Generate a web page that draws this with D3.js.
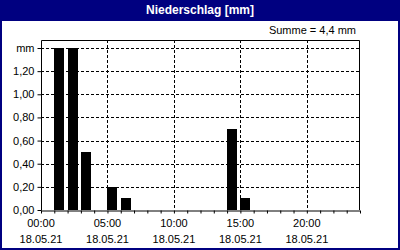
<!DOCTYPE html>
<html>
<head>
<meta charset="utf-8">
<script src="https://cdn.jsdelivr.net/npm/d3@7"></script>
<style>
  body { margin: 0; background: #fff; }
  svg { display: block; }
  text { font-family: "Liberation Sans", Arial, sans-serif; font-size: 11px; fill: #000; }
</style>
</head>
<body>
<svg id="chart" width="400" height="250"></svg>
<script>
// hourly precipitation, 18.05.21
const hours = [1, 2, 3, 5, 6, 14, 15];
const values = [1.4, 1.4, 0.5, 0.2, 0.1, 0.7, 0.1];
const yTicks = [0, 0.2, 0.4, 0.6, 0.8, 1.0, 1.2, 1.4];
const xTicks = [0, 5, 10, 15, 20];
const dateLabel = "18.05.21";
const title = "Niederschlag [mm]";
const sumLabel = "Summe = 4,4 mm";

const width = 400, height = 250;
const margin = {top: 40, right: 40, bottom: 40, left: 41};
const plotBottom = 210;

const svg = d3.select("#chart");

// frame + title bar
svg.append("rect").attr("x", 0).attr("y", 0).attr("width", width).attr("height", height).attr("fill", "#000080");
svg.append("rect").attr("x", 2).attr("y", 21).attr("width", width - 4).attr("height", height - 21 - 2).attr("fill", "#fff");
svg.append("text")
    .attr("x", width / 2).attr("y", 11)
    .attr("text-anchor", "middle").attr("dominant-baseline", "middle")
    .style("font-weight", "bold").style("font-size", "12px").style("fill", "#fff")
    .text(title);

svg.append("text")
    .attr("x", 356).attr("y", 31)
    .attr("text-anchor", "end").attr("dominant-baseline", "middle")
    .text(sumLabel);

var x = d3.scaleLinear().domain([0, 24]).range([margin.left, 360]);
var y = d3.scaleLinear().domain([0, 1.4]).range([plotBottom, 48]);

// gridlines
svg.append("g").selectAll("line")
    .data(yTicks.filter(d => d > 0))
    .enter().append("line")
    .attr("x1", x(0)).attr("x2", x(24))
    .attr("y1", d => Math.round(y(d)) + 0.5).attr("y2", d => Math.round(y(d)) + 0.5)
    .attr("stroke", "#000").attr("stroke-dasharray", "3,2");

svg.append("g").selectAll("line")
    .data(xTicks.filter(d => d > 0))
    .enter().append("line")
    .attr("x1", d => Math.round(x(d)) + 0.5).attr("x2", d => Math.round(x(d)) + 0.5)
    .attr("y1", 40).attr("y2", plotBottom)
    .attr("stroke", "#000").attr("stroke-dasharray", "3,2");

// bars
svg.append("g").selectAll("rect")
    .data(hours.map((h, i) => [h, values[i]]))
    .enter().append("rect")
    .attr("x", d => Math.round(x(d[0])))
    .attr("width", d => Math.round(x(d[0] + 0.75) - x(d[0])))
    .attr("y", d => Math.round(y(d[1])))
    .attr("height", d => plotBottom - Math.round(y(d[1])))
    .attr("fill", "#000");

// plot box (top, left, right)
svg.append("path")
    .attr("d", `M${x(0) + 0.5},${plotBottom} V40.5 H${x(24) - 0.5} V${plotBottom}`)
    .attr("fill", "none").attr("stroke", "#000");

// y axis
var yAxis = svg.append("g")
    .attr("transform", `translate(${x(0) + 0.5},0)`)
    .call(d3.axisLeft(y).tickValues(yTicks).tickSize(4).tickPadding(3)
        .tickFormat(d => d === 1.4 ? "mm" : d3.format(".2f")(d).replace(".", ",")));
yAxis.select(".domain").remove();
yAxis.selectAll("text").style("font-family", "Liberation Sans, Arial, sans-serif").style("font-size", "11px");

// x axis with hourly minor ticks
var xAxis = svg.append("g")
    .attr("transform", `translate(0,${plotBottom + 0.5})`)
    .call(d3.axisBottom(x).tickValues(d3.range(0, 25)).tickSize(3).tickSizeOuter(0).tickFormat(""));
xAxis.select(".domain").attr("d", `M${x(0)},0.5H${x(24)}`).attr("stroke-width", 1);

var xl = svg.append("g").selectAll("g")
    .data(xTicks)
    .enter().append("g")
    .attr("transform", d => `translate(${x(d)},0)`);
xl.append("text").attr("y", 227).attr("text-anchor", "middle")
    .text(d => String(d).padStart(2, "0") + ":00");
xl.append("text").attr("y", 243).attr("text-anchor", "middle")
    .text(dateLabel);
</script>
</body>
</html>
